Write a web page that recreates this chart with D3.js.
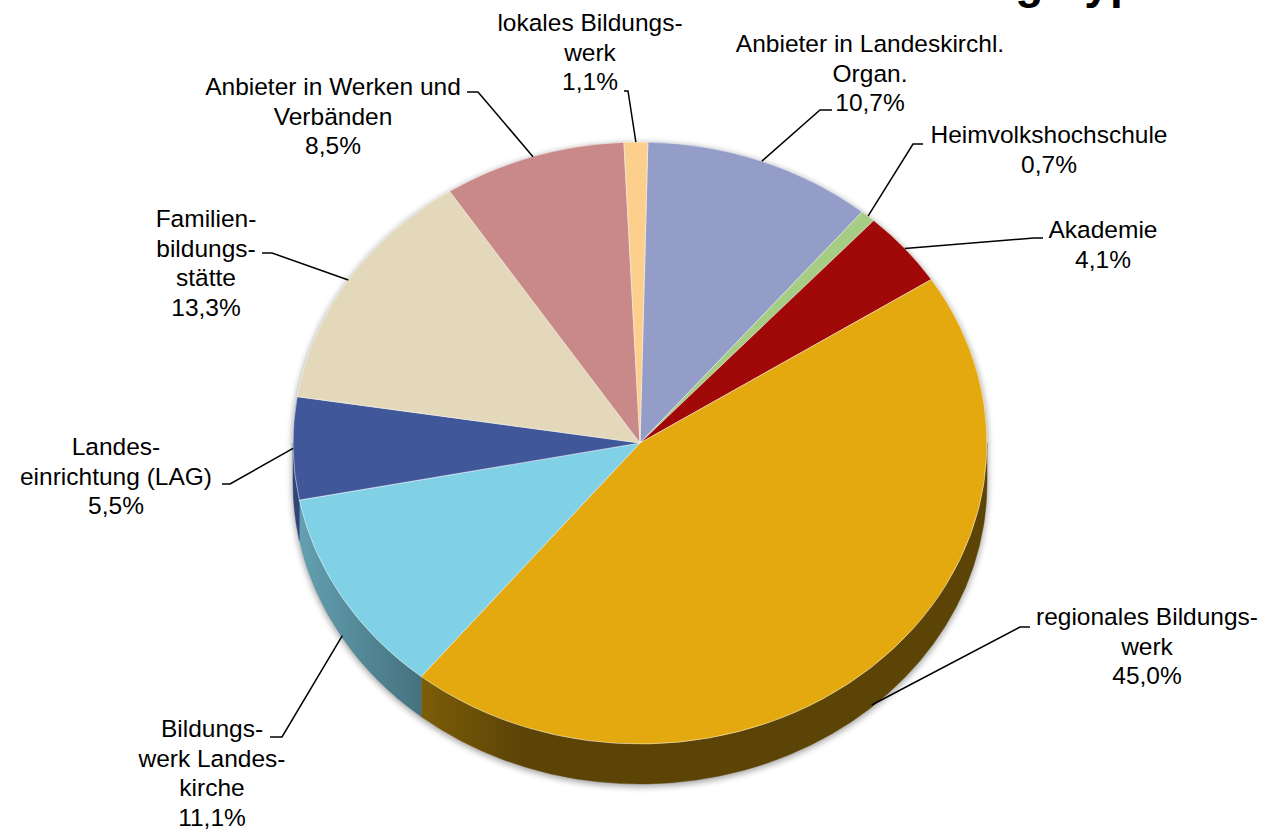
<!DOCTYPE html>
<html>
<head>
<meta charset="utf-8">
<script src="https://cdn.jsdelivr.net/npm/d3@7"></script>
<style>
  body { margin: 0; background: #fff; }
  svg { display: block; font-family: "Liberation Sans", Arial, sans-serif; }
</style>
</head>
<body>
<div id="chart"></div>
<script>
// data, clockwise from 12 o'clock
var categories = ["Anbieter in Landeskirchl. Organ.", "Heimvolkshochschule", "Akademie",
  "regionales Bildungswerk", "Bildungswerk Landeskirche", "Landeseinrichtung (LAG)",
  "Familienbildungsstätte", "Anbieter in Werken und Verbänden", "lokales Bildungswerk"];
var values = [10.7, 0.7, 4.1, 45.0, 11.1, 5.5, 13.3, 8.5, 1.1];
var labelLines = [
  ["Anbieter in Landeskirchl.", "Organ."],
  ["Heimvolkshochschule"],
  ["Akademie"],
  ["regionales Bildungs-", "werk"],
  ["Bildungs-", "werk Landes-", "kirche"],
  ["Landes-", "einrichtung (LAG)"],
  ["Familien-", "bildungs-", "stätte"],
  ["Anbieter in Werken und", "Verbänden"],
  ["lokales Bildungs-", "werk"]
];
var colors = ["#949dc8", "#a5cd84", "#a10808", "#e3a90f", "#80d0e6",
  "#40579a", "#e3d9ba", "#c98989", "#fdcf8d"];
var title = "Anteile nach Einrichtungstyp";

// label placement (centre x, first baseline, leader stub x1, x2, y)
var labelLayout = [
  { x: 870,  y: 52,  stub: [832, 820, 110] },
  { x: 1049, y: 143, stub: [923, 913, 144] },
  { x: 1103, y: 238, stub: [1043, 1034, 238] },
  { x: 1147, y: 625, stub: [1030, 1020, 627] },
  { x: 212,  y: 737, stub: [270, 282, 737] },
  { x: 116,  y: 455, stub: [222, 230, 484] },
  { x: 206,  y: 227, stub: [262, 272, 253] },
  { x: 333,  y: 95,  stub: [467, 478, 92] },
  { x: 590,  y: 31,  stub: [624, 628, 91] }
];

var W = 1267, H = 834;
var cx = 640, cy = 443, rx = 347, ry = 301, depth = 40;
var lineH = 29.6;
var startAngle = 1.3 * Math.PI / 180;

var de = d3.formatLocale({ decimal: ",", thousands: ".", grouping: [3], currency: ["", " €"] });
var pct = function(v) { return de.format(".1f")(v) + "%"; };

var color = d3.scaleOrdinal().domain(categories).range(colors);

var svg = d3.select("#chart").append("svg")
  .attr("width", W)
  .attr("height", H);

var defs = svg.append("defs");

defs.append("filter")
  .attr("id", "shadow")
  .attr("x", "-10%").attr("y", "-10%").attr("width", "120%").attr("height", "120%")
  .append("feGaussianBlur")
  .attr("stdDeviation", 3);

var pie = d3.pie().sort(null).value(function(d) { return d; })
  .startAngle(startAngle).endAngle(startAngle + 2 * Math.PI);
var arcs = pie(values);

function pt(a, dy) {
  return [cx + rx * Math.sin(a), cy - ry * Math.cos(a) + (dy || 0)];
}

function topPath(a0, a1) {
  var p0 = pt(a0), p1 = pt(a1);
  var large = (a1 - a0) > Math.PI ? 1 : 0;
  return "M" + cx + "," + cy + "L" + p0 + "A" + rx + "," + ry + " 0 " + large + " 1 " + p1 + "Z";
}

function sidePath(a0, a1) {
  var s = Math.max(a0, Math.PI / 2), e = Math.min(a1, 3 * Math.PI / 2);
  if (e <= s) return null;
  var p0 = pt(s), p1 = pt(e), q1 = pt(e, depth), q0 = pt(s, depth);
  return "M" + p0 + "A" + rx + "," + ry + " 0 0 1 " + p1 + "L" + q1 +
    "A" + rx + "," + ry + " 0 0 0 " + q0 + "Z";
}

// side shading: lighter on the left, darker to the right
var shade = [[0, 0.78], [0.183, 0.55], [0.33, 0.40], [1, 0.40]];
arcs.forEach(function(d, i) {
  var c = d3.rgb(color(categories[i]));
  var g = defs.append("linearGradient")
    .attr("id", "side" + i)
    .attr("gradientUnits", "userSpaceOnUse")
    .attr("x1", cx - rx).attr("x2", cx + rx)
    .attr("y1", 0).attr("y2", 0);
  shade.forEach(function(s) {
    g.append("stop")
      .attr("offset", s[0])
      .attr("stop-color", d3.rgb(c.r * s[1], c.g * s[1], c.b * s[1]).formatHex());
  });
});

// shadow
var sh = svg.append("g").attr("filter", "url(#shadow)").attr("fill", "#000").attr("opacity", 0.35)
  .attr("transform", "translate(0,2)");
sh.append("ellipse").attr("cx", cx).attr("cy", cy).attr("rx", rx + 1).attr("ry", ry + 1);
sh.append("ellipse").attr("cx", cx).attr("cy", cy + depth).attr("rx", rx + 1).attr("ry", ry + 1);
sh.append("rect").attr("x", cx - rx - 1).attr("y", cy).attr("width", 2 * rx + 2).attr("height", depth);

// side walls
svg.append("g").selectAll("path")
  .data(arcs.filter(function(d) { return sidePath(d.startAngle, d.endAngle); }))
  .join("path")
  .attr("d", function(d) { return sidePath(d.startAngle, d.endAngle); })
  .attr("fill", function(d) { return "url(#side" + d.index + ")"; })
  .attr("stroke", function(d) { return "url(#side" + d.index + ")"; })
  .attr("stroke-width", 0.5);

// top face
svg.append("g").selectAll("path")
  .data(arcs)
  .join("path")
  .attr("d", function(d) { return topPath(d.startAngle, d.endAngle); })
  .attr("fill", function(d, i) { return color(categories[i]); })
  .attr("stroke", "#ffffff")
  .attr("stroke-opacity", 0.6)
  .attr("stroke-width", 0.8)
  .attr("stroke-linejoin", "round");

// leader lines
svg.append("g").selectAll("polyline")
  .data(arcs)
  .join("polyline")
  .attr("points", function(d, i) {
    var mid = (d.startAngle + d.endAngle) / 2;
    var end = pt(mid, Math.cos(mid) < -0.3 ? depth - 2 : 0);
    var s = labelLayout[i].stub;
    return [[s[0], s[2]], [s[1], s[2]], end].join(" ");
  })
  .attr("fill", "none")
  .attr("stroke", "#000")
  .attr("stroke-width", 1.5);

// labels
var labels = svg.append("g")
  .attr("font-size", "24.5px")
  .attr("fill", "#000")
  .attr("text-anchor", "middle");

labels.selectAll("text")
  .data(arcs)
  .join("text")
  .attr("x", function(d, i) { return labelLayout[i].x; })
  .attr("y", function(d, i) { return labelLayout[i].y; })
  .each(function(d, i) {
    var lines = labelLines[i].concat([pct(d.data)]);
    d3.select(this).selectAll("tspan")
      .data(lines)
      .join("tspan")
      .attr("x", labelLayout[i].x)
      .attr("dy", function(t, j) { return j === 0 ? 0 : lineH; })
      .text(function(t) { return t; });
  });

// title (runs off the top edge)
svg.append("text")
  .attr("x", 1138)
  .attr("y", -2)
  .attr("text-anchor", "end")
  .attr("font-size", "46px")
  .attr("font-weight", "bold")
  .attr("fill", "#000")
  .text(title);
</script>
</body>
</html>
